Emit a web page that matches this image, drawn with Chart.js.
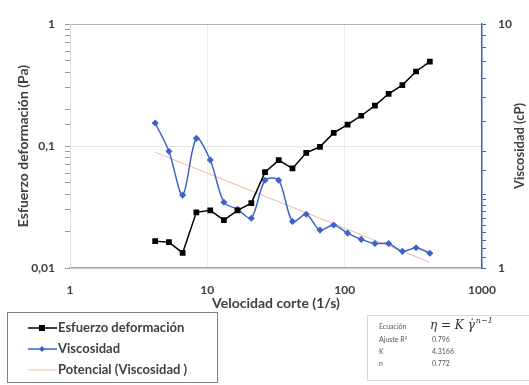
<!DOCTYPE html>
<html>
<head>
<meta charset="utf-8">
<script src="https://cdn.jsdelivr.net/npm/chart.js@4"></script>
<style>
body { margin: 0; background: #fff; }
</style>
</head>
<body>
<canvas id="grafik" width="529" height="385"></canvas>
<script>
// datos
const velocidad = [4.17, 5.25, 6.61, 8.32, 10.5, 13.2, 16.6, 20.9, 26.3, 33.1, 41.7, 52.5, 66.1, 83.2, 105, 132, 166, 209, 263, 331, 417];
const esfuerzo = [0.0166, 0.0163, 0.0133, 0.0286, 0.0297, 0.0247, 0.0297, 0.034, 0.0611, 0.0766, 0.0655, 0.088, 0.0985, 0.128, 0.150, 0.177, 0.214, 0.268, 0.316, 0.408, 0.492];
const viscosidad = [3.93, 3.01, 1.99, 3.40, 2.77, 1.86, 1.74, 1.60, 2.29, 2.29, 1.55, 1.66, 1.43, 1.50, 1.39, 1.31, 1.26, 1.26, 1.17, 1.21, 1.15];
const tendenciaX = [4.17, 417];
const tendenciaY = [2.98, 1.055];

const ticksX = [1, 10, 100, 1000];
const ticksIzq = [0.01, 0.1, 1];
const ticksDer = [1, 10];
const etiquetasAjuste = ['Ecuación', 'Ajuste R²', 'K', 'n'];
const valoresAjuste = ['', '0.796', '4.3166', '0.772'];

const fuente = 'Lato, "Open Sans", sans-serif';
const gris = '#404040';

function puntos(xs, ys) {
    return xs.map((x, i) => ({ x: x, y: ys[i] }));
}

function esTick(lista, v) {
    return lista.some(t => Math.abs(t - v) < t * 1e-6);
}

function coma(v) {
    return String(v).replace('.', ',');
}

const leyenda = {
    id: 'leyenda',
    afterDraw(chart) {
        const ctx = chart.ctx;
        ctx.save();
        // caja de la leyenda
        ctx.strokeStyle = '#7f7f7f';
        ctx.lineWidth = 1;
        ctx.strokeRect(7.5, 312.5, 210, 70);
        ctx.font = 'bold 13px ' + fuente;
        ctx.fillStyle = gris;
        ctx.textBaseline = 'middle';
        const filas = [328, 349, 370];
        chart.data.datasets.forEach((ds, i) => {
            const y = filas[i];
            ctx.strokeStyle = ds.borderColor;
            ctx.lineWidth = ds.borderWidth;
            ctx.beginPath();
            ctx.moveTo(28, y);
            ctx.lineTo(57, y);
            ctx.stroke();
            if (ds.pointRadius > 0) {
                ctx.fillStyle = ds.pointBackgroundColor;
                ctx.beginPath();
                if (ds.pointStyle === 'rect') {
                    ctx.rect(42 - 3, y - 3, 6, 6);
                } else {
                    ctx.moveTo(42, y - 3); ctx.lineTo(45, y); ctx.lineTo(42, y + 3); ctx.lineTo(39, y);
                    ctx.closePath();
                }
                ctx.fill();
            }
            ctx.fillStyle = gris;
            ctx.fillText(ds.label, 58, y);
        });

        // titulo del eje derecho (se lee de abajo hacia arriba)
        ctx.save();
        ctx.translate(520, 146);
        ctx.rotate(-Math.PI / 2);
        ctx.textAlign = 'center';
        ctx.font = 'bold 13px ' + fuente;
        ctx.fillText('Viscosidad (cP)', 0, 0);
        ctx.restore();

        // recuadro del ajuste
        ctx.strokeStyle = '#d6d6d6';
        ctx.strokeRect(367.5, 315.5, 170, 65);
        ctx.font = '7px ' + fuente;
        ctx.fillStyle = '#555';
        const filasAjuste = [327, 340, 352, 364];
        etiquetasAjuste.forEach((t, i) => {
            ctx.fillText(t, 379, filasAjuste[i]);
            ctx.fillText(valoresAjuste[i], 432, filasAjuste[i]);
        });
        ctx.font = 'italic 12px "DejaVu Serif", serif';
        ctx.fillStyle = '#333';
        ctx.fillText('η = K γ̇', 430, 326);
        const w = ctx.measureText('η = K γ̇').width;
        ctx.font = 'italic 8px "DejaVu Serif", serif';
        ctx.fillText('n−1', 431 + w, 321);
        ctx.restore();
    }
};

const data = {
    datasets: [{
        label: 'Esfuerzo deformación',
        data: puntos(velocidad, esfuerzo),
        yAxisID: 'y',
        borderColor: '#000000',
        backgroundColor: '#000000',
        pointBackgroundColor: '#000000',
        pointBorderColor: '#000000',
        pointStyle: 'rect',
        pointRadius: 3,
        borderWidth: 1.5,
        tension: 0
    }, {
        label: 'Viscosidad',
        data: puntos(velocidad, viscosidad),
        yAxisID: 'y1',
        borderColor: '#3a64c8',
        backgroundColor: '#3a64c8',
        pointBackgroundColor: '#3a64c8',
        pointBorderColor: '#3a64c8',
        pointStyle: 'rectRot',
        pointRadius: 2.5,
        borderWidth: 1.5,
        tension: 0.3
    }, {
        label: 'Potencial (Viscosidad )',
        data: puntos(tendenciaX, tendenciaY),
        yAxisID: 'y1',
        borderColor: '#f3b9a4',
        backgroundColor: '#f3b9a4',
        pointRadius: 0,
        borderWidth: 1,
        tension: 0
    }]
};

const config = {
    type: 'line',
    data: data,
    options: {
        responsive: false,
        animation: false,
        layout: { padding: { top: 24, left: 0, right: 0, bottom: 73 } },
        plugins: {
            legend: { display: false },
            tooltip: { enabled: false }
        },
        scales: {
            x: {
                type: 'logarithmic',
                min: 1,
                max: 1000,
                afterFit(s) { s.height = 44; },
                border: { color: '#a6a6a6', width: 1.5 },
                grid: {
                    drawTicks: false,
                    color: (c) => esTick(ticksX, c.tick.value) ? '#ececec' : 'rgba(0,0,0,0)'
                },
                ticks: {
                    autoSkip: false,
                    maxRotation: 0,
                    padding: 15,
                    color: gris,
                    font: { family: fuente, size: 12, weight: 'bold' },
                    callback: (v) => esTick(ticksX, v) ? String(v) : ''
                },
                title: {
                    display: true,
                    text: 'Velocidad corte (1/s)',
                    color: gris,
                    padding: { top: 0, bottom: 0 },
                    font: { family: fuente, size: 14, weight: 'bold' }
                }
            },
            y: {
                type: 'logarithmic',
                position: 'left',
                min: 0.01,
                max: 1,
                afterFit(s) { s.width = 70; },
                border: { color: '#e0e0e0', width: 1 },
                grid: {
                    tickLength: 5,
                    tickColor: '#9a9a9a',
                    color: (c) => {
                        const v = c.tick.value;
                        if (Math.abs(v - 1) < 1e-6) return '#b0b0b0';
                        return esTick(ticksIzq, v) ? '#e6e6e6' : 'rgba(0,0,0,0)';
                    }
                },
                ticks: {
                    autoSkip: false,
                    padding: 10,
                    color: gris,
                    font: { family: fuente, size: 12, weight: 'bold' },
                    callback: (v) => esTick(ticksIzq, v) ? coma(v) : ''
                },
                title: {
                    display: true,
                    text: 'Esfuerzo deformación (Pa)',
                    color: gris,
                    padding: { top: 15, bottom: 0 },
                    font: { family: fuente, size: 14, weight: 'bold' }
                }
            },
            y1: {
                type: 'logarithmic',
                position: 'right',
                min: 1,
                max: 10,
                afterFit(s) { s.width = 47; },
                border: { color: '#3a64c8', width: 1.5 },
                grid: {
                    drawOnChartArea: false,
                    tickLength: 4,
                    tickColor: '#3a64c8'
                },
                ticks: {
                    autoSkip: false,
                    padding: 12,
                    color: gris,
                    font: { family: fuente, size: 12, weight: 'bold' },
                    callback: (v) => esTick(ticksDer, v) ? String(v) : ''
                }
            }
        }
    },
    plugins: [leyenda]
};

const myChart = new Chart(document.getElementById('grafik'), config);
</script>
</body>
</html>
